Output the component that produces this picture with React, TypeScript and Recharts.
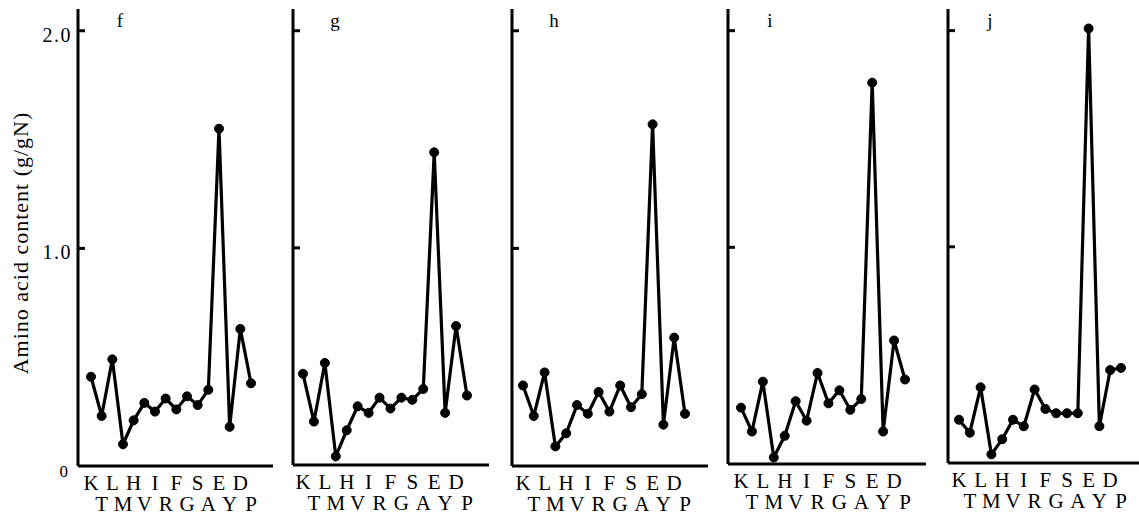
import { LineChart, Line, XAxis, YAxis } from 'recharts';

// amino acids in plotting order (top row / bottom row of labels alternate)
const aminoAcids = ['K', 'T', 'L', 'M', 'H', 'V', 'I', 'R', 'F', 'G', 'S', 'A', 'E', 'Y', 'D', 'P'];

const panelNames = ['f', 'g', 'h', 'i', 'j'];

const valuesF = [0.41, 0.23, 0.49, 0.10, 0.21, 0.29, 0.25, 0.31, 0.26, 0.32, 0.28, 0.35, 1.55, 0.18, 0.63, 0.38];
const valuesG = [0.42, 0.20, 0.47, 0.04, 0.16, 0.27, 0.24, 0.31, 0.26, 0.31, 0.30, 0.35, 1.44, 0.24, 0.64, 0.32];
const valuesH = [0.37, 0.23, 0.43, 0.09, 0.15, 0.28, 0.24, 0.34, 0.25, 0.37, 0.27, 0.33, 1.57, 0.19, 0.59, 0.24];
const valuesI = [0.26, 0.15, 0.38, 0.03, 0.13, 0.29, 0.20, 0.42, 0.28, 0.34, 0.25, 0.30, 1.76, 0.15, 0.57, 0.39];
const valuesJ = [0.20, 0.14, 0.35, 0.04, 0.11, 0.20, 0.17, 0.34, 0.25, 0.23, 0.23, 0.23, 2.01, 0.17, 0.43, 0.44];

const panelValues = [valuesF, valuesG, valuesH, valuesI, valuesJ];

const yTicks = [0, 1, 2];
const yTickLabels = ['0', '1.0', '2.0'];
const yTitle = 'Amino acid content (g/gN)';

// page layout of each small panel (not data)
const layout = [
  { axisX: 78, right: 273, baseline: 466, padL: 13, padR: 22 },
  { axisX: 293, right: 489, baseline: 465, padL: 10, padR: 22 },
  { axisX: 512, right: 708, baseline: 466, padL: 11, padR: 23 },
  { axisX: 728, right: 926, baseline: 464, padL: 13, padR: 21 },
  { axisX: 948, right: 1139, baseline: 463, padL: 11, padR: 18 },
];

const H = 522;
const TOP = 9;
const X_AXIS_H = 50;
const Y_AXIS_W = 2;
const FONT = "'Liberation Serif', 'DejaVu Serif', serif";
const textStyle = { fontFamily: FONT };

function Panel({ idx }: { idx: number }) {
  const lay = layout[idx];
  const first = idx === 0;
  const svgLeft = first ? 0 : lay.axisX - 12;
  const ml = lay.axisX - svgLeft - Y_AXIS_W;
  const ax = lay.axisX - svgLeft;
  const width = lay.right - svgLeft;
  const bottom = H - X_AXIS_H - lay.baseline;
  const data = aminoAcids.map((aa, i) => ({ aa, v: panelValues[idx][i] }));

  const yTick = (props: any) => {
    const { y, payload, index } = props;
    return (
      <g>
        {payload.value > 0 && (
          <line x1={ax} x2={ax + 7} y1={y} y2={y} stroke="#000" strokeWidth={3} />
        )}
        {first && (
          <text
            x={index === 0 ? ax - 10 : ax - 6}
            y={y + 11}
            textAnchor="end"
            style={textStyle}
            fontSize={index === 0 ? 17 : 20}
            letterSpacing={index === 0 ? 0 : 1.5}
            fill="#000"
          >
            {yTickLabels[index]}
          </text>
        )}
      </g>
    );
  };

  const xTick = (props: any) => {
    const { x, payload, index } = props;
    const upper = index % 2 === 0;
    return (
      <text
        x={x}
        y={lay.baseline + (upper ? 24 : 45)}
        textAnchor="middle"
        style={textStyle}
        fontSize={21}
        fill="#000"
      >
        {payload.value}
      </text>
    );
  };

  return (
    <div style={{ position: 'absolute', left: svgLeft, top: 0 }}>
      <LineChart width={width} height={H} data={data} margin={{ top: TOP, right: 0, bottom, left: ml }}>
        <XAxis
          dataKey="aa"
          interval={0}
          height={X_AXIS_H}
          padding={{ left: lay.padL, right: lay.padR }}
          axisLine={{ stroke: '#000', strokeWidth: 3 }}
          tickLine={false}
          tick={xTick}
          label={{
            content: () => (
              <text x={ax + 42} y={27} textAnchor="middle" style={textStyle} fontSize={19} fill="#000">
                {panelNames[idx]}
              </text>
            ),
          }}
        />
        <YAxis
          width={Y_AXIS_W}
          domain={[0, 2.1]}
          ticks={yTicks}
          type="number"
          allowDataOverflow
          axisLine={{ stroke: '#000', strokeWidth: 3 }}
          tickLine={false}
          tick={yTick}
          label={
            first
              ? {
                  content: () => (
                    <text
                      transform="translate(28,243) rotate(-90)"
                      textAnchor="middle"
                      style={textStyle}
                      fontSize={22}
                      letterSpacing={1}
                      fill="#000"
                    >
                      {yTitle}
                    </text>
                  ),
                }
              : undefined
          }
        />
        <Line
          type="linear"
          dataKey="v"
          stroke="#000"
          strokeWidth={3.2}
          dot={{ r: 4.5, fill: '#000', stroke: '#000', strokeWidth: 1 }}
          isAnimationActive={false}
        />
      </LineChart>
    </div>
  );
}

export default function App() {
  return (
    <div style={{ position: 'absolute', left: 0, top: 0, width: 1139, height: H, background: '#fff' }}>
      {panelNames.map((_, i) => (
        <Panel key={i} idx={i} />
      ))}
    </div>
  );
}
